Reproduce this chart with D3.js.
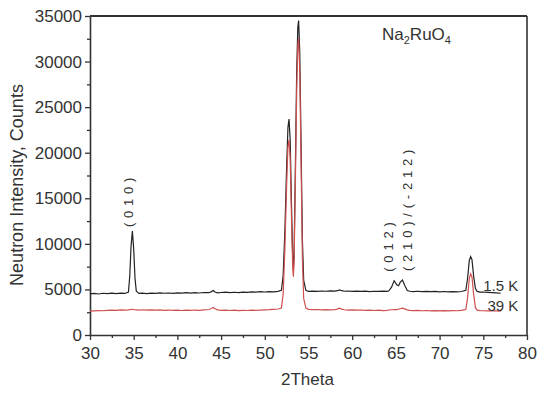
<!DOCTYPE html>
<meta charset="utf-8">
<html>
<head>
<script src="https://cdn.jsdelivr.net/npm/d3@7"></script>
<style>
body { margin: 0; background: #fff; }
text { font-family: "Liberation Sans", Arial, sans-serif; fill: #333; }
</style>
</head>
<body>
<div id="my_dataviz"></div>
<script>

// 2theta grid (degrees), shared by both scans
var theta = [
  30, 30.5, 31, 31.5, 32, 32.5, 33, 33.5,
  34, 34.4, 34.55, 34.7, 34.85, 35.0, 35.15, 35.3,
  35.6, 36, 36.5, 37, 37.5, 38, 38.5, 39,
  39.5, 40, 40.5, 41, 41.5, 42, 42.5, 43,
  43.6, 43.9, 44.1, 44.3, 44.6, 45, 45.5, 46,
  46.5, 47, 47.5, 48, 48.5, 49, 49.5, 50,
  50.5, 51, 51.5, 51.9, 52.1, 52.3, 52.5, 52.65,
  52.77, 52.9, 53.05, 53.2, 53.27, 53.35, 53.5, 53.65,
  53.78, 53.87, 54.0, 54.15, 54.3, 54.45, 54.7, 55,
  55.5, 56, 56.5, 57, 57.5, 58, 58.3, 58.55,
  58.8, 59.1, 59.5, 60, 60.5, 61, 61.5, 62,
  62.5, 63, 63.5, 64, 64.2, 64.5, 64.8, 65.1,
  65.3, 65.5, 65.75, 66.0, 66.3, 66.6, 67, 67.5,
  68, 68.5, 69, 69.5, 70, 70.5, 71, 71.5,
  72, 72.5, 73.0, 73.2, 73.4, 73.55, 73.7, 73.9,
  74.1, 74.3, 74.6, 75, 75.5, 76, 76.5, 77
];

// 1.5 K counts
var counts15K = [
  4520, 4560, 4500, 4580, 4540, 4600, 4550, 4590,
  4560, 4700, 6500, 9800, 11400, 9400, 6200, 4800,
  4560, 4590, 4540, 4600, 4570, 4620, 4580, 4610,
  4570, 4630, 4590, 4640, 4600, 4650, 4610, 4660,
  4640, 4760, 4880, 4720, 4620, 4660, 4700, 4650,
  4690, 4660, 4710, 4680, 4730, 4700, 4750, 4720,
  4760, 4740, 4790, 4900, 6500, 11500, 18500, 22800,
  23700, 21500, 14500, 8200, 7100, 8900, 18500, 29000,
  33800, 34500, 31000, 21000, 10500, 6000, 4900, 4780,
  4820, 4790, 4830, 4800, 4840, 4810, 4860, 4950,
  4860, 4800, 4830, 4790, 4820, 4780, 4810, 4770,
  4800, 4780, 4810, 4790, 4850, 5250, 5950, 5500,
  5400, 5800, 6030, 5450, 4880, 4800, 4770, 4800,
  4760, 4790, 4750, 4780, 4740, 4770, 4730, 4760,
  4740, 4770, 4900, 6200, 8200, 8600, 8300, 6400,
  5100, 4780, 4700, 4720, 4680, 4650, 4620, 4580
];

// 39 K counts
var counts39K = [
  2630, 2650, 2680, 2660, 2700, 2720, 2700, 2750,
  2730, 2760, 2780, 2800, 2820, 2790, 2770, 2760,
  2740, 2770, 2730, 2760, 2720, 2750, 2710, 2740,
  2700, 2730, 2690, 2720, 2700, 2740, 2710, 2760,
  2800, 2900, 3020, 2880, 2760, 2700, 2730, 2690,
  2720, 2680, 2710, 2690, 2730, 2700, 2740, 2760,
  2780, 2820, 2850, 2950, 4500, 9500, 16500, 20700,
  21400, 19500, 13000, 7300, 6400, 8000, 17000, 27000,
  31800, 32500, 29000, 19000, 8500, 4000, 2950, 2820,
  2780, 2800, 2760, 2790, 2750, 2780, 2840, 2940,
  2840, 2770, 2740, 2760, 2720, 2740, 2700, 2730,
  2690, 2720, 2680, 2700, 2740, 2770, 2800, 2790,
  2830, 2880, 2950, 2870, 2760, 2700, 2680, 2700,
  2660, 2690, 2650, 2680, 2640, 2670, 2650, 2680,
  2660, 2700, 2800, 4100, 6200, 6700, 6400, 4400,
  3000, 2730, 2680, 2660, 2650, 2640, 2650, 2630
];

var xTicks = [30, 35, 40, 45, 50, 55, 60, 65, 70, 75, 80];
var yTicks = [0, 5000, 10000, 15000, 20000, 25000, 30000, 35000];

// peak labels: text, 2theta and intensity it sits on
var peakText = ["(010)", "(012)", "(210)/(-212)"];
var peakTheta = [34.85, 64.8, 65.75];
var peakCount = [11400, 5950, 6030];

// set the dimensions and margins of the graph
var margin = {top: 16, right: 11, bottom: 59, left: 90},
    width = 538 - margin.left - margin.right,
    height = 394 - margin.top - margin.bottom;

var svg = d3.select("#my_dataviz")
  .append("svg")
    .attr("width", 538)
    .attr("height", 394)
  .append("g")
    .attr("transform", "translate(" + margin.left + "," + margin.top + ")");

var x = d3.scaleLinear().domain([30, 80]).range([0, width]);
var y = d3.scaleLinear().domain([0, 35000]).range([height, 0]);

// minor ticks first (no labels)
svg.append("g")
  .attr("transform", "translate(0," + height + ")")
  .call(d3.axisBottom(x).tickValues(d3.range(32.5, 80, 5)).tickSize(3).tickFormat(""))
  .call(function(g) { g.select(".domain").remove(); });
svg.append("g")
  .call(d3.axisLeft(y).tickValues(d3.range(2500, 35000, 5000)).tickSize(3).tickFormat(""))
  .call(function(g) { g.select(".domain").remove(); });

// X axis
svg.append("g")
  .attr("transform", "translate(0," + height + ")")
  .call(d3.axisBottom(x).tickValues(xTicks).tickSize(5).tickPadding(7).tickSizeOuter(0))
  .call(function(g) { g.selectAll("text").style("font-size", "17px"); });

// Y axis
svg.append("g")
  .call(d3.axisLeft(y).tickValues(yTicks).tickSize(5).tickPadding(3).tickSizeOuter(0)
    .tickFormat(d3.format("d")))
  .call(function(g) { g.selectAll("text").style("font-size", "17px"); });

svg.selectAll(".tick line").attr("stroke", "#333").attr("stroke-width", 1.3);
svg.selectAll(".domain").attr("stroke", "#333").attr("stroke-width", 1.6);

// top and right frame
svg.append("line").attr("x1", 0).attr("x2", width).attr("y1", 0).attr("y2", 0)
  .attr("stroke", "#333").attr("stroke-width", 2);
svg.append("line").attr("x1", width).attr("x2", width).attr("y1", 0).attr("y2", height)
  .attr("stroke", "#333").attr("stroke-width", 1.6);

var line = d3.line()
  .x(function(d, i) { return x(theta[i]); })
  .y(function(d) { return y(d); });

svg.append("path")
  .datum(counts15K)
  .attr("fill", "none")
  .attr("stroke", "#222")
  .attr("stroke-width", 1.2)
  .attr("d", line);

svg.append("path")
  .datum(counts39K)
  .attr("fill", "none")
  .attr("stroke", "#cf4f4f")
  .attr("stroke-width", 1.2)
  .attr("d", line);

// rotated peak labels
var labelDx = [1, -1, 10];
var labelDy = [-4, -9, -9];
svg.selectAll(".peak")
  .data(peakText)
  .enter()
  .append("text")
    .attr("class", "peak")
    .attr("transform", function(d, i) {
      return "translate(" + (x(peakTheta[i]) + labelDx[i]) + "," + (y(peakCount[i]) + labelDy[i]) + ") rotate(-90)";
    })
    .style("font-size", "13px")
    .style("letter-spacing", "4.8px")
    .text(function(d) { return d; });

// series labels
svg.append("text")
  .attr("x", x(79)).attr("y", y(4800))
  .attr("text-anchor", "end")
  .style("font-size", "15px")
  .text("1.5 K");
svg.append("text")
  .attr("x", x(79)).attr("y", y(2600))
  .attr("text-anchor", "end")
  .style("font-size", "15px")
  .text("39 K");

// compound name
var nm = svg.append("text")
  .attr("x", 292).attr("y", 24)
  .style("font-size", "17px");
nm.append("tspan").text("Na");
nm.append("tspan").attr("dy", 4).style("font-size", "11px").text("2");
nm.append("tspan").attr("dy", -4).text("RuO");
nm.append("tspan").attr("dy", 4).style("font-size", "11px").text("4");

// axis titles
svg.append("text")
  .attr("x", width / 2 - 1)
  .attr("y", height + 50)
  .attr("text-anchor", "middle")
  .style("font-size", "17px")
  .text("2Theta");

svg.append("text")
  .attr("transform", "translate(" + (23 - margin.left) + "," + (185 - margin.top) + ") rotate(-90)")
  .attr("text-anchor", "middle")
  .style("font-size", "18px")
  .text("Neutron Intensity, Counts");

</script>
</body>
</html>
